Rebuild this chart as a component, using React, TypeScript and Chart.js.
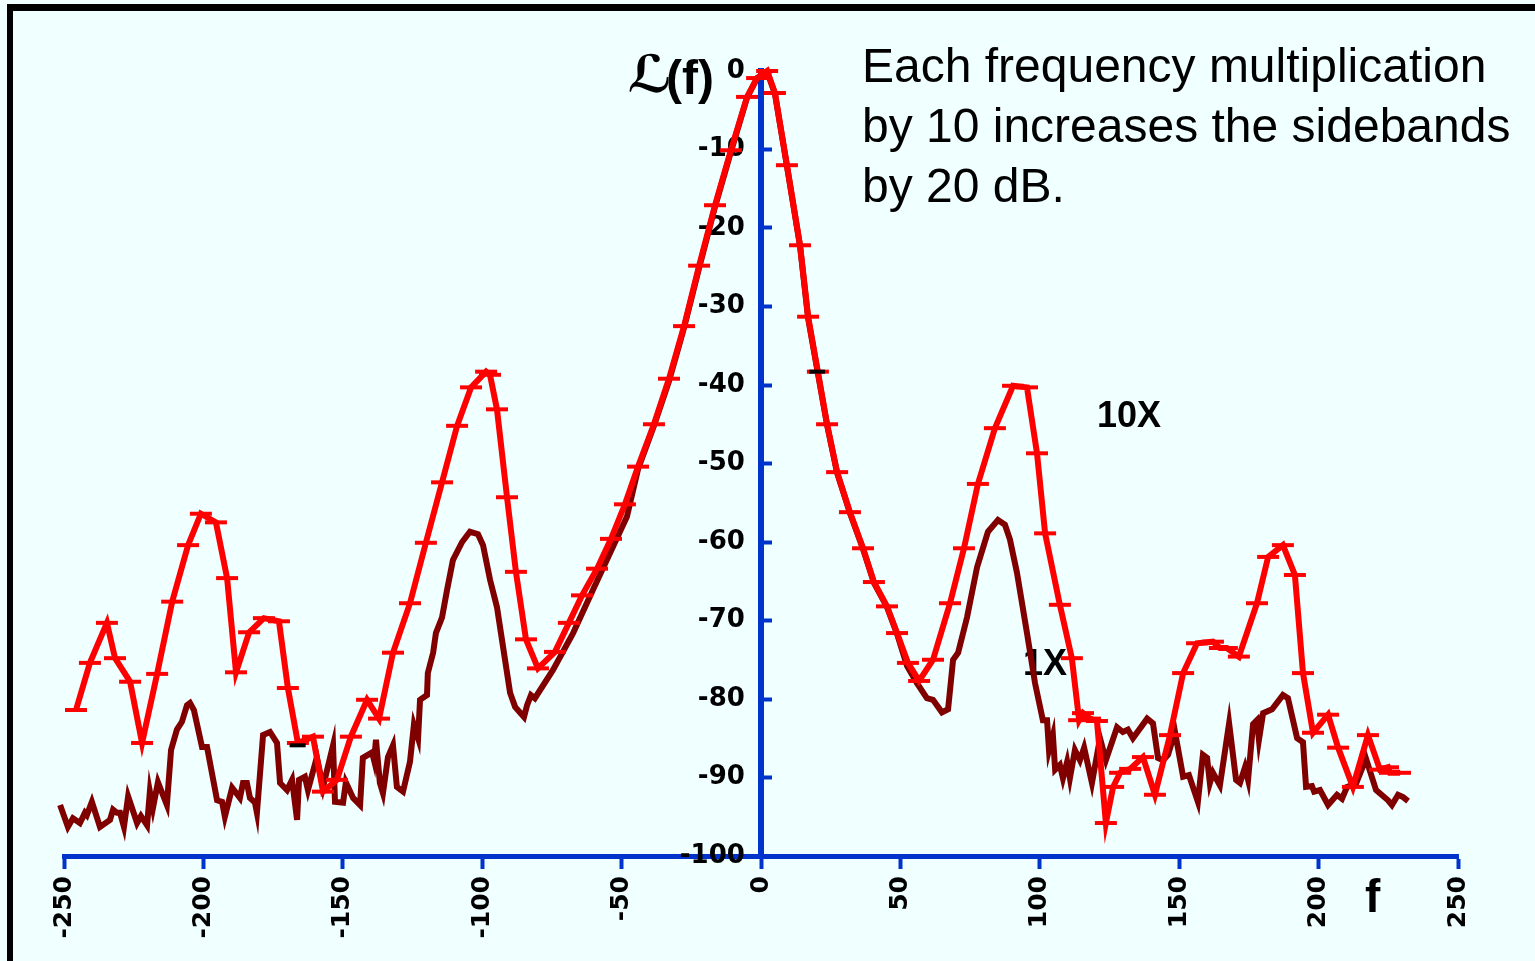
import React, { useEffect, useRef } from "react";
import { Chart, registerables } from "chart.js";

Chart.register(...registerables);

// ---- Data (frequency offset f, level L(f) in dB) ----
const tenXFreq = [
  -245.7, -240.7, -234.6, -231.7, -226.3, -222.0, -216.6, -211.2, -205.5, -200.9,
  -195.5, -191.5, -188.3, -183.6, -178.3, -172.9, -169.7, -166.1, -160.7, -157.1,
  -152.1, -147.1, -141.3, -137.0, -132.0, -125.9, -120.2, -114.4, -109.0, -104.0,
  -98.6, -97.2, -94.7, -91.1, -87.9, -84.3, -80.0, -73.9, -68.9, -64.2,
  -58.8, -53.8, -48.8, -44.1, -38.4, -33.0, -27.6, -22.2, -16.5, -10.8,
  -5.0, -1.4, 2.2, 5.0, 9.3, 14.0, 16.9, 20.4, 23.7, 27.3,
  31.9, 36.6, 40.5, 45.2, 48.8, 52.7, 56.7, 61.7, 67.8, 72.8,
  77.8, 83.9, 90.4, 95.4, 99.0, 101.9, 107.2, 111.5, 114.1, 115.5,
  118.0, 120.5, 123.7, 126.3, 128.8, 132.4, 137.0, 141.3, 146.7, 151.4,
  156.4, 162.1, 164.6, 167.1, 171.4, 177.9, 181.9, 187.2, 191.5, 194.4,
  198.0, 203.4, 207.0, 212.3, 217.7, 222.0, 224.9, 225.6, 229.2,
];
const tenXLevel = [
  -81.4, -75.4, -70.3, -74.8, -77.8, -85.6, -76.8, -67.6, -60.4, -56.4,
  -57.5, -64.6, -76.6, -71.5, -69.7, -70.1, -78.6, -85.6, -84.8, -91.8,
  -90.3, -84.8, -80.1, -82.5, -74.1, -67.8, -60.1, -52.4, -45.2, -40.3,
  -38.3, -38.7, -43.1, -54.3, -63.8, -72.4, -76.1, -74.0, -70.3, -66.8,
  -63.4, -59.6, -55.2, -50.4, -45.0, -39.2, -32.5, -24.8, -17.1, -10.1,
  -3.3, -0.9, 0, -2.8, -12.0, -22.2, -31.3, -38.3, -45.0, -51.1,
  -56.2, -60.8, -65.1, -68.2, -71.6, -75.4, -77.7, -75.0, -67.8, -60.8,
  -52.6, -45.5, -40.1, -40.3, -48.7, -58.9, -68.0, -74.8, -82.7, -81.8,
  -82.5, -82.8, -95.8, -91.2, -89.4, -88.9, -87.4, -92.2, -84.6, -76.7,
  -72.9, -72.7, -73.5, -73.5, -74.6, -67.8, -61.9, -60.4, -64.2, -76.7,
  -84.3, -82.0, -86.2, -91.2, -84.6, -89.0, -88.7, -89.4, -89.4,
];

const oneXFreq = [
  -252.5, -251.4, -248.6, -246.8, -244.3, -242.5, -241.8, -240.0, -237.1, -233.5,
  -232.4, -231.0, -229.9, -228.5, -227.0, -223.8, -222.4, -220.2, -219.2, -218.1,
  -216.3, -213.1, -211.6, -209.5, -207.7, -205.9, -204.8, -203.4, -200.5, -198.7,
  -195.1, -193.3, -192.3, -189.7, -186.9, -185.8, -184.4, -183.3, -181.5, -180.8,
  -178.6, -176.1, -173.6, -172.5, -170.0, -168.2, -166.4, -165.7, -163.6, -162.5,
  -159.3, -157.1, -153.5, -152.8, -149.9, -148.9, -146.3, -143.8, -142.8, -139.5,
  -138.8, -138.1, -136.7, -135.6, -133.8, -132.0, -130.6, -128.4, -125.9, -124.5,
  -123.0, -122.3, -119.8, -119.5, -117.6, -116.6, -114.4, -112.6, -110.5, -107.2,
  -104.4, -101.5, -99.7, -97.2, -94.7, -92.5, -90.0, -88.2, -85.0, -83.9,
  -82.5, -81.1, -74.6, -67.4, -60.3, -53.1, -48.1, -44.1, -38.4, -33.0,
  -27.6, -22.2, -16.5, -10.8, -5.0, -1.4, 2.2, 5.0, 9.3, 14.0,
  16.9, 20.4, 23.7, 27.3, 31.9, 36.6, 40.5, 45.2, 48.8, 52.4,
  56.0, 59.5, 61.7, 64.9, 67.1, 68.9, 70.7, 73.9, 77.5, 81.4,
  85.0, 87.5, 89.3, 91.8, 95.4, 98.3, 101.1, 102.6, 103.3, 104.7,
  105.5, 107.2, 108.3, 109.8, 110.8, 112.6, 114.4, 115.9, 118.7, 121.6,
  123.7, 127.7, 129.8, 131.6, 133.4, 138.5, 140.6, 142.4, 144.2, 146.0,
  148.5, 151.4, 153.5, 156.7, 158.5, 160.0, 161.0, 162.1, 164.6, 167.9,
  170.4, 171.8, 173.6, 174.7, 176.5, 177.9, 178.6, 180.1, 183.3, 187.2,
  189.0, 192.3, 194.4, 195.5, 197.6, 198.4, 200.5, 203.4, 206.6, 208.4,
  210.2, 213.4, 217.0, 220.6, 224.9, 226.3, 228.5, 230.3, 232.1,
];
const oneXLevel = [
  -94.1, -93.5, -96.3, -95.2, -95.8, -94.5, -94.8, -93.1, -96.3, -95.4,
  -94.1, -94.5, -94.5, -96.3, -92.4, -95.8, -94.9, -96.1, -91.8, -93.9,
  -90.6, -93.5, -86.5, -83.9, -82.9, -80.8, -80.5, -81.4, -86.1, -86.1,
  -92.9, -93.1, -95.0, -91.3, -92.6, -90.7, -90.7, -92.6, -93.2, -94.5,
  -84.6, -84.2, -85.6, -90.7, -91.6, -90.3, -95.4, -90.3, -89.9, -91.6,
  -87.4, -91.2, -85.9, -93.1, -93.2, -90.6, -92.6, -93.5, -87.5, -86.8,
  -87.8, -85.2, -90.7, -92.0, -87.4, -85.9, -91.2, -91.8, -88.0, -83.3,
  -85.0, -80.1, -79.5, -76.7, -74.1, -71.6, -69.6, -66.1, -62.3, -60.0,
  -58.7, -59.0, -60.4, -64.8, -68.3, -73.4, -79.2, -81.0, -82.3, -80.8,
  -79.5, -79.9, -76.3, -71.6, -66.1, -60.6, -56.8, -50.7, -45.2, -39.5,
  -32.7, -25.1, -17.3, -10.3, -3.4, -0.9, -0.1, -2.9, -12.1, -22.3,
  -31.5, -38.5, -45.1, -51.2, -56.3, -60.9, -65.2, -68.3, -71.7, -75.8,
  -78.0, -79.9, -80.1, -81.7, -81.3, -75.0, -74.1, -69.6, -63.2, -58.7,
  -57.2, -57.8, -59.7, -63.9, -71.6, -78.0, -82.7, -82.7, -86.5, -84.6,
  -89.0, -88.4, -90.1, -88.0, -90.1, -86.5, -87.8, -86.2, -90.7, -85.0,
  -87.8, -83.6, -84.2, -83.9, -85.0, -82.5, -83.1, -87.5, -87.8, -87.1,
  -84.2, -89.9, -89.7, -93.1, -87.1, -87.5, -90.7, -89.4, -91.0, -83.1,
  -90.3, -90.7, -88.7, -90.3, -83.2, -82.7, -85.2, -81.8, -81.3, -79.5,
  -79.9, -85.0, -85.5, -91.2, -91.1, -91.8, -91.6, -93.5, -92.2, -92.7,
  -91.2, -90.8, -87.6, -91.6, -92.9, -93.5, -92.2, -92.5, -93.0,
];

// stray black marks in the original figure
const strayFreq = [-166.2, 20.1];
const strayLevel = [-85.9, -38.3];

const xTickValues = [-250, -200, -150, -100, -50, 0, 50, 100, 150, 200, 250];
const yTickValues = [0, -10, -20, -30, -40, -50, -60, -70, -80, -90, -100];

const captionLines = [
  "Each frequency multiplication",
  "by 10 increases the sidebands",
  "by 20 dB.",
];
const seriesLabels = ["10X", "1X"];
const yAxisTitle = "(f)";
const yAxisScript = "\u2112";
const xAxisTitle = "f";

const BG = "#F0FFFF";
const AXIS_BLUE = "#0033CC";

const toPoints = (xs: number[], ys: number[]) =>
  xs.map((x, i) => ({ x, y: ys[i] }));

const textPlugin = {
  id: "figureText",
  beforeDatasetsDraw(chart: any) {
    const ctx = chart.ctx as CanvasRenderingContext2D;
    ctx.save();
    ctx.fillStyle = "#000";
    ctx.textBaseline = "alphabetic";
    ctx.textAlign = "left";
    ctx.font = '48px "Liberation Sans", Arial, sans-serif';
    captionLines.forEach((t, i) => ctx.fillText(t, 862, 82 + i * 60));
    ctx.font = 'bold 36px "Liberation Sans", Arial, sans-serif';
    ctx.fillText(seriesLabels[0], 1097, 427);
    ctx.fillText(seriesLabels[1], 1023, 675);
    ctx.font = 'bold 48px "Liberation Sans", Arial, sans-serif';
    ctx.fillText(yAxisTitle, 666, 94);
    ctx.font = 'bold 46px "Liberation Sans", Arial, sans-serif';
    ctx.fillText(xAxisTitle, 1365, 912);
    ctx.textAlign = "right";
    ctx.font = 'bold italic 52px "DejaVu Serif", "DejaVu Sans", serif';
    ctx.fillText(yAxisScript, 672, 92);
    ctx.restore();
  },
};

export default function App() {
  const canvasRef = useRef<HTMLCanvasElement | null>(null);

  useEffect(() => {
    document.body.style.background = BG;
    document.documentElement.style.background = BG;
    const canvas = canvasRef.current;
    if (!canvas) return;
    const xTickFont = { family: '"DejaVu Sans", sans-serif', weight: "bold" as const, size: 25 };
    const yTickFont = { family: '"DejaVu Sans", sans-serif', weight: "bold" as const, size: 26 };
    const setYTicks = (scale: any) => {
      scale.ticks = yTickValues.map((v) => ({ value: v }));
    };
    const chart = new Chart(canvas, {
      type: "line",
      data: {
        datasets: [
          {
            label: "stray",
            data: toPoints(strayFreq, strayLevel),
            showLine: false,
            pointStyle: "line",
            pointRadius: 8,
            pointBorderWidth: 4,
            pointBorderColor: "#000",
            borderColor: "#000",
            clip: false,
            order: -1,
          } as any,
          {
            label: seriesLabels[0],
            data: toPoints(tenXFreq, tenXLevel),
            borderColor: "#FF0000",
            borderWidth: 6,
            pointStyle: "line",
            pointRadius: 11,
            pointBorderWidth: 4,
            pointBorderColor: "#FF0000",
            pointBackgroundColor: "#FF0000",
            tension: 0,
            clip: false,
            order: 0,
          } as any,
          {
            label: seriesLabels[1],
            data: toPoints(oneXFreq, oneXLevel),
            borderColor: "#800000",
            borderWidth: 6,
            pointRadius: 0,
            tension: 0,
            clip: false,
            order: 1,
          } as any,
        ],
      },
      options: {
        animation: false,
        responsive: false,
        maintainAspectRatio: false,
        devicePixelRatio: 1,
        events: [],
        layout: { padding: { left: 64, right: 77, top: 71, bottom: 105 } },
        plugins: {
          legend: { display: false },
          tooltip: { enabled: false },
        },
        scales: {
          x: {
            type: "linear",
            min: -250,
            max: 250,
            position: { y: -100 } as any,
            afterBuildTicks: (scale: any) => {
              scale.ticks = xTickValues.map((v) => ({ value: v }));
            },
            ticks: {
              minRotation: 90,
              maxRotation: 90,
              autoSkip: false,
              color: "#000",
              font: xTickFont,
              padding: 10,
            },
            grid: {
              drawOnChartArea: false,
              drawTicks: true,
              tickLength: 10,
              tickWidth: 4,
              tickColor: AXIS_BLUE,
              color: AXIS_BLUE,
            },
            border: { display: true, color: AXIS_BLUE, width: 5 },
          },
          // y axis line and tick marks, crossing at f = 0
          y: {
            type: "linear",
            min: -100,
            max: 0,
            position: { x: 0 } as any,
            afterBuildTicks: setYTicks,
            ticks: { display: false },
            grid: {
              drawOnChartArea: false,
              drawTicks: true,
              tickLength: -14,
              tickWidth: 4,
              tickColor: AXIS_BLUE,
              color: AXIS_BLUE,
            },
            border: { display: true, color: AXIS_BLUE, width: 6 },
          },
          // y tick labels, set just left of the axis
          yLabels: {
            type: "linear",
            axis: "y",
            min: -100,
            max: 0,
            position: { x: -5.8 } as any,
            afterBuildTicks: setYTicks,
            ticks: {
              autoSkip: false,
              color: "#000",
              font: yTickFont,
            },
            grid: { display: false, drawOnChartArea: false, drawTicks: false },
            border: { display: false },
          } as any,
        },
      },
      plugins: [textPlugin],
    });
    return () => chart.destroy();
  }, []);

  return (
    <div>
      <div
        style={{
          position: "fixed",
          left: 7,
          top: 4,
          width: 2000,
          height: 2000,
          borderTop: "7px solid #000",
          borderLeft: "6px solid #000",
          background: BG,
        }}
      />
      <canvas
        ref={canvasRef}
        width={1535}
        height={961}
        style={{ position: "fixed", left: 0, top: 0, width: 1535, height: 961 }}
      />
    </div>
  );
}
